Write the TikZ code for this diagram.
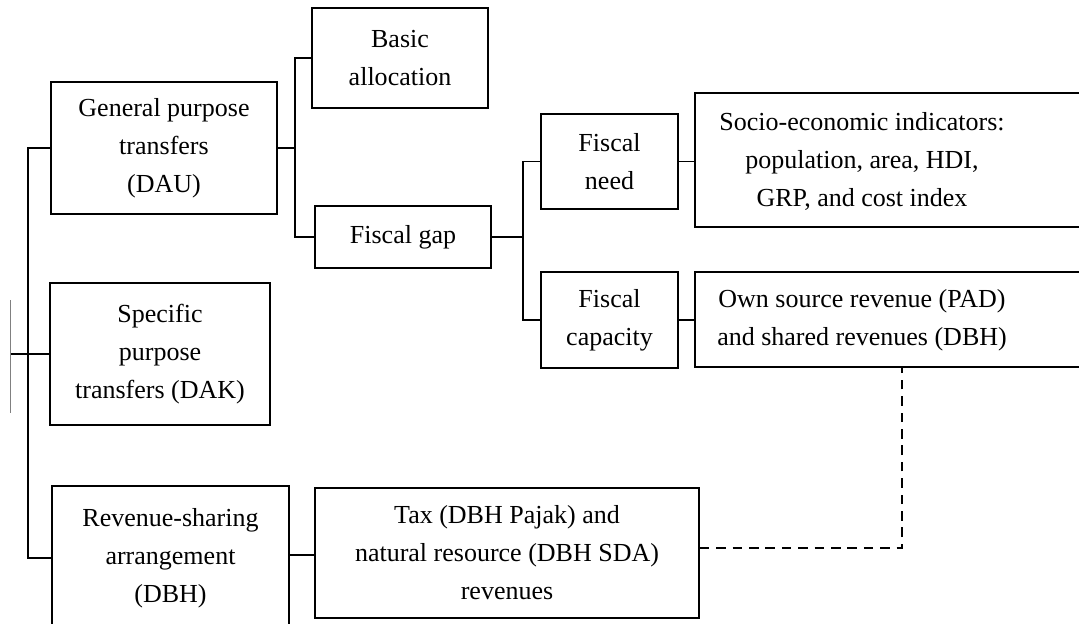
\documentclass[tikz,border=0pt]{standalone}
\usepackage{fontspec}
\setmainfont{Liberation Serif}
\usetikzlibrary{calc}
\usetikzlibrary{positioning}

\tikzset{
  box/.style={draw, thick, rectangle, align=center, inner sep=0pt,
    font=\fontsize{13}{19}\selectfont},
  txt/.style={align=center, inner sep=0pt, font=\fontsize{13}{19}\selectfont},
  link/.style={thick},
  dashlink/.style={thick, dash pattern=on 4.8pt off 3.4pt}
}

\begin{document}
\begin{tikzpicture}[x=0.5pt,y=-0.5pt]
\useasboundingbox (0,0) rectangle (1079,623);
\clip (0,0) rectangle (1079,623);

%first level
\node[box, minimum width=113pt, minimum height=66pt] (dau) at (164,148) {General purpose\\transfers\\(DAU)};
\node[box, minimum width=110pt, minimum height=71pt] (dak) at (160,354) {Specific\\purpose\\transfers (DAK)};
\node[box, minimum width=118.5pt, minimum height=72pt] (dbh) at (170.5,558) {Revenue-sharing\\arrangement\\(DBH)};

%second level
\node[box, minimum width=88pt, minimum height=50pt] (basic) at (400,58) {Basic\\allocation};
\node[box, minimum width=88pt, minimum height=31pt] (gap) at (403,237) {Fiscal gap};
\node[box, minimum width=192pt, minimum height=65pt] (tax) at (507,553) {Tax (DBH Pajak) and\\natural resource (DBH SDA)\\revenues};

%fiscal gap parts
\node[box, minimum width=68.5pt, minimum height=47.5pt] (need) at (609.5,161.5) {Fiscal\\need};
\node[box, minimum width=68.5pt, minimum height=48pt] (capacity) at (609.5,320) {Fiscal\\capacity};

%indicators
\node[box, minimum width=207pt, minimum height=67pt] (socio) at (902,160) {};
\node[txt] (sociotxt) at (862,161) {Socio-economic indicators:\\population, area, HDI,\\GRP, and cost index};
\node[box, minimum width=207pt, minimum height=47.5pt] (own) at (902,319.5) {};
\node[txt] (owntxt) at (862,320) {Own source revenue (PAD)\\and shared revenues (DBH)};

%root bus
\coordinate (root) at (10,354);
\draw[link] (dau.west) -- ++(-22,0) |- (dbh.west);
\draw[link] (dak.west) -- (root);
\draw[gray, thin] (10,300) -- (10,413);

%DAU branches
\draw[link] (dau.east) -- ++(17,0) |- (basic.west);
\draw[link] (dau.east) -- ++(17,0) |- (gap.west);

%fiscal gap branches
\draw[link] (gap.east) -- ++(31,0) |- (need.west);
\draw[link] (gap.east) -- ++(31,0) |- (capacity.west);
\draw[link] (need.east) -- (need.east -| socio.west);
\draw[link] (capacity.east) -- (capacity.east -| own.west);

%DBH
\draw[link] ($(dbh.east)+(0,-3)$) -- ($(dbh.east -| tax.west)+(0,-3)$);
\draw[dashlink] ($(tax.east)+(0,-5)$) -| (own.south);

\end{tikzpicture}
\end{document}
